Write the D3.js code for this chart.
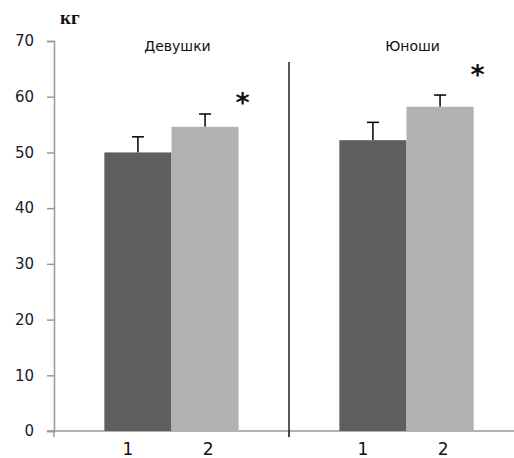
<!DOCTYPE html>
<html>
<head>
<meta charset="utf-8">
<script src="https://cdn.jsdelivr.net/npm/d3@7"></script>
<style>
  body { margin: 0; background: #fff; }
</style>
</head>
<body>
<svg id="chart" width="514" height="458"></svg>
<script>
const groups = ["Девушки", "Юноши"];
const series = ["1", "2"];
const means = [[50, 54.6], [52.2, 58.2]];
const errTops = [[52.8, 56.9], [55.4, 60.3]];
const starLevels = [59.4, 64.4];   // height (kg) where the "*" mark sits
const yTicks = [0, 10, 20, 30, 40, 50, 60, 70];

const svg = d3.select("#chart");
const plotLeft = 54, plotRight = 524, plotTop = 41, plotBottom = 431;

const x0 = d3.scaleBand().domain(groups).range([plotLeft, plotRight]);
const x1 = d3.scaleBand().domain(series).range([0, x0.bandwidth()]).paddingOuter(0.75).paddingInner(0);
const y = d3.scaleLinear().domain([0, 70]).range([plotBottom, plotTop]);
const color = d3.scaleOrdinal().domain(series).range(["#5f5f5f", "#b2b2b2"]);
// category labels sit a little apart from the bar centres, as in the original
const labelShift = d3.scaleOrdinal().domain(series).range([-10, 3]);

// y axis
const yAxis = svg.append("g")
  .attr("transform", `translate(${plotLeft},0)`)
  .call(d3.axisLeft(y).tickValues(yTicks).tickSize(7).tickPadding(13));
yAxis.select(".domain").attr("stroke", "#999").attr("stroke-width", 1.5);
yAxis.selectAll(".tick line").attr("stroke", "#999").attr("stroke-width", 1.5);
yAxis.selectAll(".tick text")
  .attr("font-family", "DejaVu Sans").attr("font-size", 15).attr("fill", "#1b1b2b");

// x axis line + ticks
svg.append("line")
  .attr("x1", plotLeft - 7).attr("x2", plotRight).attr("y1", plotBottom).attr("y2", plotBottom)
  .attr("stroke", "#999").attr("stroke-width", 1.5);
svg.selectAll(".xtick")
  .data([plotLeft, x0("Юноши")])
  .join("line")
  .attr("x1", d => d).attr("x2", d => d)
  .attr("y1", plotBottom).attr("y2", plotBottom + 6)
  .attr("stroke", "#999").attr("stroke-width", 1.5);

// divider between groups
svg.append("line")
  .attr("x1", x0("Юноши")).attr("x2", x0("Юноши"))
  .attr("y1", 62).attr("y2", plotBottom + 6)
  .attr("stroke", "#222").attr("stroke-width", 1.5);

const g = svg.selectAll(".grp")
  .data(groups)
  .join("g")
  .attr("transform", d => `translate(${x0(d)},0)`);

// error bars (drawn behind bars)
g.each(function (grp, gi) {
  const sel = d3.select(this);
  series.forEach((s, si) => {
    const cx = x1(s) + x1.bandwidth() / 2;
    sel.append("line")
      .attr("x1", cx).attr("x2", cx)
      .attr("y1", y(means[gi][si])).attr("y2", y(errTops[gi][si]))
      .attr("stroke", "#000").attr("stroke-width", 1.5);
    sel.append("line")
      .attr("x1", cx - 6).attr("x2", cx + 6)
      .attr("y1", y(errTops[gi][si])).attr("y2", y(errTops[gi][si]))
      .attr("stroke", "#000").attr("stroke-width", 1.5);
  });
});

g.selectAll("rect")
  .data((d, gi) => series.map((s, si) => ({ s, v: means[gi][si] })))
  .join("rect")
  .attr("x", d => x1(d.s))
  .attr("width", x1.bandwidth())
  .attr("y", d => y(d.v))
  .attr("height", d => y(0) - y(d.v))
  .attr("fill", d => color(d.s));

// x category labels
g.selectAll(".xl")
  .data(series)
  .join("text")
  .attr("x", d => x1(d) + x1.bandwidth() / 2 + labelShift(d))
  .attr("y", 455)
  .attr("text-anchor", "middle")
  .attr("font-family", "DejaVu Sans")
  .attr("font-size", 17)
  .attr("fill", "#111")
  .text(d => d);

// group titles
g.append("text")
  .attr("x", x0.bandwidth() / 2 + 6)
  .attr("y", 51)
  .attr("text-anchor", "middle")
  .attr("font-family", "DejaVu Sans")
  .attr("font-size", 14)
  .attr("fill", "#111")
  .text(d => d);

// significance asterisks
g.append("text")
  .attr("x", x1("2") + x1.bandwidth() + 4)
  .attr("y", (d, i) => y(starLevels[i]) + 12)
  .attr("text-anchor", "middle")
  .attr("font-family", "DejaVu Sans")
  .attr("font-weight", "bold")
  .attr("font-size", 27)
  .attr("fill", "#111")
  .text("*");

// unit label
svg.append("text")
  .attr("x", 60).attr("y", 24)
  .attr("font-family", "Liberation Serif")
  .attr("font-weight", "bold")
  .attr("font-size", 19)
  .attr("fill", "#111")
  .text("кг");
</script>
</body>
</html>
